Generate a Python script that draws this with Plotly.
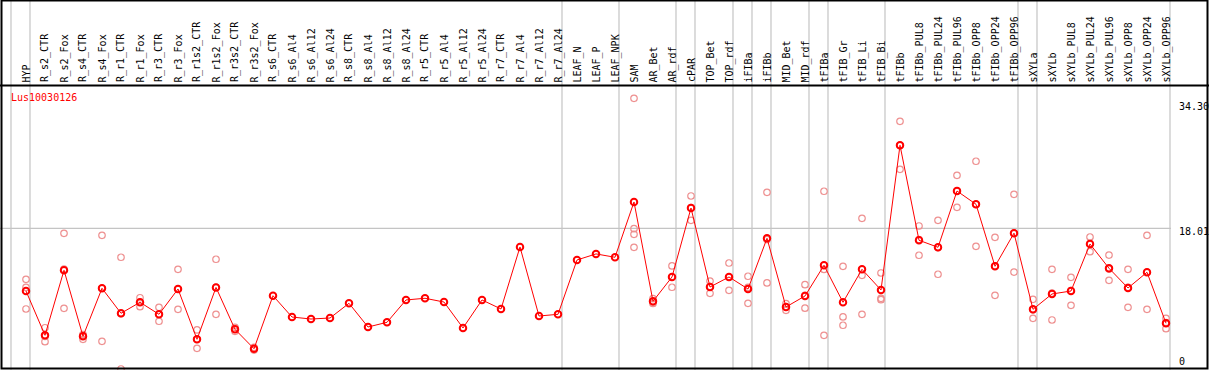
import plotly.graph_objects as go

labels = ["HYP", "R_s2_CTR", "R_s2_Fox", "R_s4_CTR", "R_s4_Fox", "R_r1_CTR", "R_r1_Fox",
          "R_r3_CTR", "R_r3_Fox", "R_r1s2_CTR", "R_r1s2_Fox", "R_r3s2_CTR", "R_r3s2_Fox",
          "R_s6_CTR", "R_s6_Al4", "R_s6_Al12", "R_s6_Al24", "R_s8_CTR", "R_s8_Al4",
          "R_s8_Al12", "R_s8_Al24", "R_r5_CTR", "R_r5_Al4", "R_r5_Al12", "R_r5_Al24",
          "R_r7_CTR", "R_r7_Al4", "R_r7_Al12", "R_r7_Al24", "LEAF_N", "LEAF_P", "LEAF_NPK",
          "SAM", "AR_Bet", "AR_rdf", "cPAR", "TOP_Bet", "TOP_rdf", "iFIBa", "iFIBb",
          "MID_Bet", "MID_rdf", "tFIBa", "tFIB_Gr", "tFIB_Li", "tFIB_Bi", "tFIBb",
          "tFIBb_PUL8", "tFIBb_PUL24", "tFIBb_PUL96", "tFIBb_OPP8", "tFIBb_OPP24",
          "tFIBb_OPP96", "sXYLa", "sXYLb", "sXYLb_PUL8", "sXYLb_PUL24", "sXYLb_PUL96",
          "sXYLb_OPP8", "sXYLb_OPP24", "sXYLb_OPP96"]

means = [10.15, 4.6, 12.75, 4.48, 10.49, 7.36, 8.74, 7.23, 10.4, 4.1, 10.6, 5.35, 2.92,
         9.56, 6.89, 6.64, 6.77, 8.61, 5.64, 6.23, 9.03, 9.24, 8.77, 5.52, 9.03, 7.9,
         15.67, 7.02, 7.23, 14.04, 14.8, 14.38, 21.31, 8.86, 11.91, 20.55, 10.65, 11.91,
         10.4, 16.76, 8.15, 9.53, 13.37, 8.74, 12.87, 10.28, 28.41, 16.51, 15.63, 22.68,
         21.02, 13.25, 17.4, 7.86, 9.78, 10.15, 16.04, 13.0, 10.53, 12.5, 6.11]

N = None
rep1 = [11.62, 5.55, 17.38, 4.63, 17.13, 14.38, 9.31, 8.11, 12.87, 5.27, 14.13, 5.6, 3.1,
        N, N, N, N, N, N, N, N, N, N, N, N, N, N, N, N, N, N, N,
        34.30, 9.19, 13.29, 22.06, 11.4, 13.66, 12.0, 22.52, 8.56, 10.94, 22.65, 13.25,
        19.26, 12.41, 31.42, 18.3, 19.01, 24.65, 26.41, 16.88, 22.27, 9.11, 12.87, 11.87,
        16.92, 14.66, 12.87, 17.13, 6.73]
rep2 = [10.6, 4.45, 12.9, 4.1, 10.5, 7.3, 8.19, 6.36, 10.4, 2.97, 7.23, 5.1, 2.75,
        N, N, N, N, N, N, N, N, N, N, N, N, N, N, N, N, N, N, N,
        17.96, 8.77, 11.9, 20.6, 10.7, 11.9, 10.6, 16.6, 8.15, 9.6, 12.86, 6.9,
        12.12, 9.24, 28.4, 16.6, 15.6, 22.7, 21.0, 13.3, 17.4, 7.8, 9.9, 10.2,
        16.1, 12.9, 10.6, 12.5, 6.2]
rep3 = [7.9, 3.8, 7.98, 4.7, 3.85, 0.38, 8.74, 7.23, 7.86, 4.1, 10.6, 5.35, 2.92,
        N, N, N, N, N, N, N, N, N, N, N, N, N, N, N, N, N, N, N,
        17.26, 8.6, 10.62, 19.01, 9.86, 10.24, 8.61, 11.16, 7.73, 8.0, 4.6, 5.86,
        7.23, 9.06, 25.40, 14.63, 12.25, 20.64, 15.75, 9.61, 12.53, 6.73, 6.52, 8.36,
        15.08, 11.49, 8.11, 7.86, 5.43]
rep4 = [N] * 32 + [15.63] + [N] * 28

group_starts = [0, 1, 29, 32, 35, 36, 38, 39, 40, 42, 43, 46, 53, 54, 61]
title_text = "Lus10030126"
y_labels = ["34.30", "18.01", "0"]
y_label_pos = [33.25, 17.55, 1.29]
ref_line = 18.01

W, H = 1209, 370
FONT = "DejaVu Sans Mono"
x_idx = list(range(len(labels)))

fig = go.Figure()
for rep in (rep1, rep2, rep3, rep4):
    fig.add_trace(go.Scatter(
        x=x_idx, y=rep, mode="markers",
        marker=dict(symbol="circle-open", size=6.5, color="#EE9090",
                    line=dict(width=1.2, color="#EE9090")),
        hoverinfo="skip", showlegend=False))

fig.add_trace(go.Scatter(
    x=x_idx, y=means, mode="lines+markers",
    line=dict(color="#FF0000", width=1),
    marker=dict(symbol="circle-open", size=6.5, color="#FF0000",
                line=dict(width=2, color="#FF0000")),
    showlegend=False))

off = 15 / 19
shapes = []
for g in group_starts:
    shapes.append(dict(type="line", xref="x", yref="paper", x0=g - off, x1=g - off,
                       y0=0, y1=1, line=dict(color="#C4C4C4", width=1.2), layer="below"))
shapes.append(dict(type="line", xref="paper", yref="y", x0=0, x1=(1171 / W),
                   y0=ref_line, y1=ref_line, line=dict(color="#C4C4C4", width=1.2),
                   layer="below"))
# header separator
shapes.append(dict(type="line", xref="paper", yref="paper", x0=0, x1=1,
                   y0=1 - 85.5 / H, y1=1 - 85.5 / H, line=dict(color="black", width=2)))
# border
shapes.append(dict(type="rect", xref="paper", yref="paper", x0=1.5 / W, x1=1 - 1.5 / W,
                   y0=1.5 / H, y1=1 - 0.5 / H, line=dict(color="black", width=2)))

ann = []
for i, lab in enumerate(labels):
    ann.append(dict(x=i, y=1 - 83.5 / H, xref="x", yref="paper", text=lab,
                    textangle=-90, showarrow=False, xanchor="center", yanchor="bottom",
                    font=dict(family=FONT, size=10, color="black"), borderpad=0))
ann.append(dict(x=10 / W, y=1 - 97 / H, xref="paper", yref="paper", text=title_text,
                showarrow=False, xanchor="left", yanchor="middle",
                font=dict(family=FONT, size=10, color="#FF0000"), borderpad=0))
for t, yp in zip(y_labels, y_label_pos):
    ann.append(dict(x=1178 / W, y=yp, xref="paper", yref="y", text=t, showarrow=False,
                    xanchor="left", yanchor="middle",
                    font=dict(family=FONT, size=10, color="black"), borderpad=0))

x0 = -26 / 19
x1 = (W - 26) / 19
y_top = 18.01 + 228.3 / 7.98
y_bot = 18.01 - (H - 228.3) / 7.98

fig.update_layout(
    width=W, height=H, margin=dict(l=0, r=0, t=0, b=0),
    paper_bgcolor="white", plot_bgcolor="white",
    xaxis=dict(range=[x0, x1], visible=False, fixedrange=True),
    yaxis=dict(range=[y_bot, y_top], visible=False, fixedrange=True),
    shapes=shapes, annotations=ann, showlegend=False)

fig.write_html("out.html", config={"displayModeBar": False},
               post_script="document.body.style.margin='0px';document.body.style.overflow='hidden';")
